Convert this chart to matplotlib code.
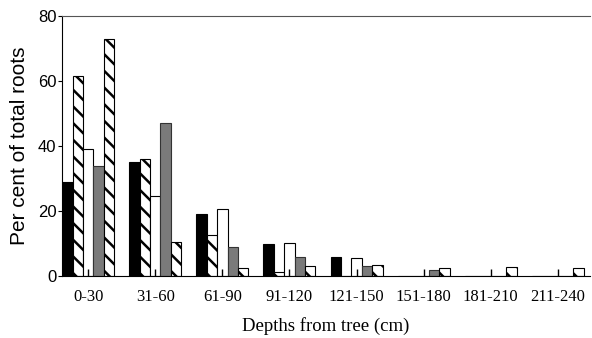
import matplotlib
matplotlib.use("Agg")
import matplotlib.pyplot as plt
import numpy as np

depths = ["0-30", "31-60", "61-90", "91-120", "121-150", "151-180", "181-210", "211-240"]

# five series per depth class
black = [29, 35, 19, 9.8, 5.8, 0, 0, 0]
hatch1 = [61.5, 36, 12.6, 1.2, 0, 0, 0, 0]
white = [39, 24.6, 20.6, 10.2, 5.5, 0, 0, 0]
grey = [34, 47, 9, 5.8, 3.1, 1.8, 0, 0]
hatch2 = [73, 10.4, 2.5, 3, 3.4, 2.5, 2.8, 2.5]

plt.rcParams["hatch.linewidth"] = 1.8

fig = plt.figure(figsize=(5.92, 3.38), dpi=100)
ax = fig.add_axes([0.1047, 0.1834, 0.892, 0.7693])

x = np.arange(len(depths))
w = 0.155
series = [
    (black, dict(color="black", edgecolor="black")),
    (hatch1, dict(color="white", edgecolor="black", hatch="\\\\")),
    (white, dict(color="white", edgecolor="black")),
    (grey, dict(color="#7a7a7a", edgecolor="#333333")),
    (hatch2, dict(color="white", edgecolor="black", hatch="\\\\")),
]
for i, (vals, style) in enumerate(series):
    ax.bar(x + (i - 2) * w, vals, width=w, linewidth=0.8, **style)

ax.set_xlim(-0.39, 7.48)
ax.set_ylim(0, 80)
ax.set_yticks([0, 20, 40, 60, 80])
ax.set_xticks(x)
ax.set_xticklabels(depths, fontfamily="Liberation Serif", fontsize=12)
for lab in ax.get_yticklabels():
    lab.set_fontfamily("Liberation Sans")
    lab.set_fontsize(12)
ax.tick_params(axis="x", direction="in", length=5, width=1, pad=9)
ax.tick_params(axis="y", direction="out", length=3, width=0.8, pad=1)

ax.spines["right"].set_visible(False)
ax.spines["top"].set_color("#555555")
ax.spines["top"].set_linewidth(0.8)
ax.spines["left"].set_linewidth(0.8)
ax.spines["bottom"].set_linewidth(0.8)

ax.set_ylabel("Per cent of total roots", fontfamily="Liberation Sans", fontsize=15, labelpad=6)
ax.set_xlabel("Depths from tree (cm)", fontfamily="Liberation Serif", fontsize=13.5, labelpad=9)

fig.savefig("out.png", dpi=100)
